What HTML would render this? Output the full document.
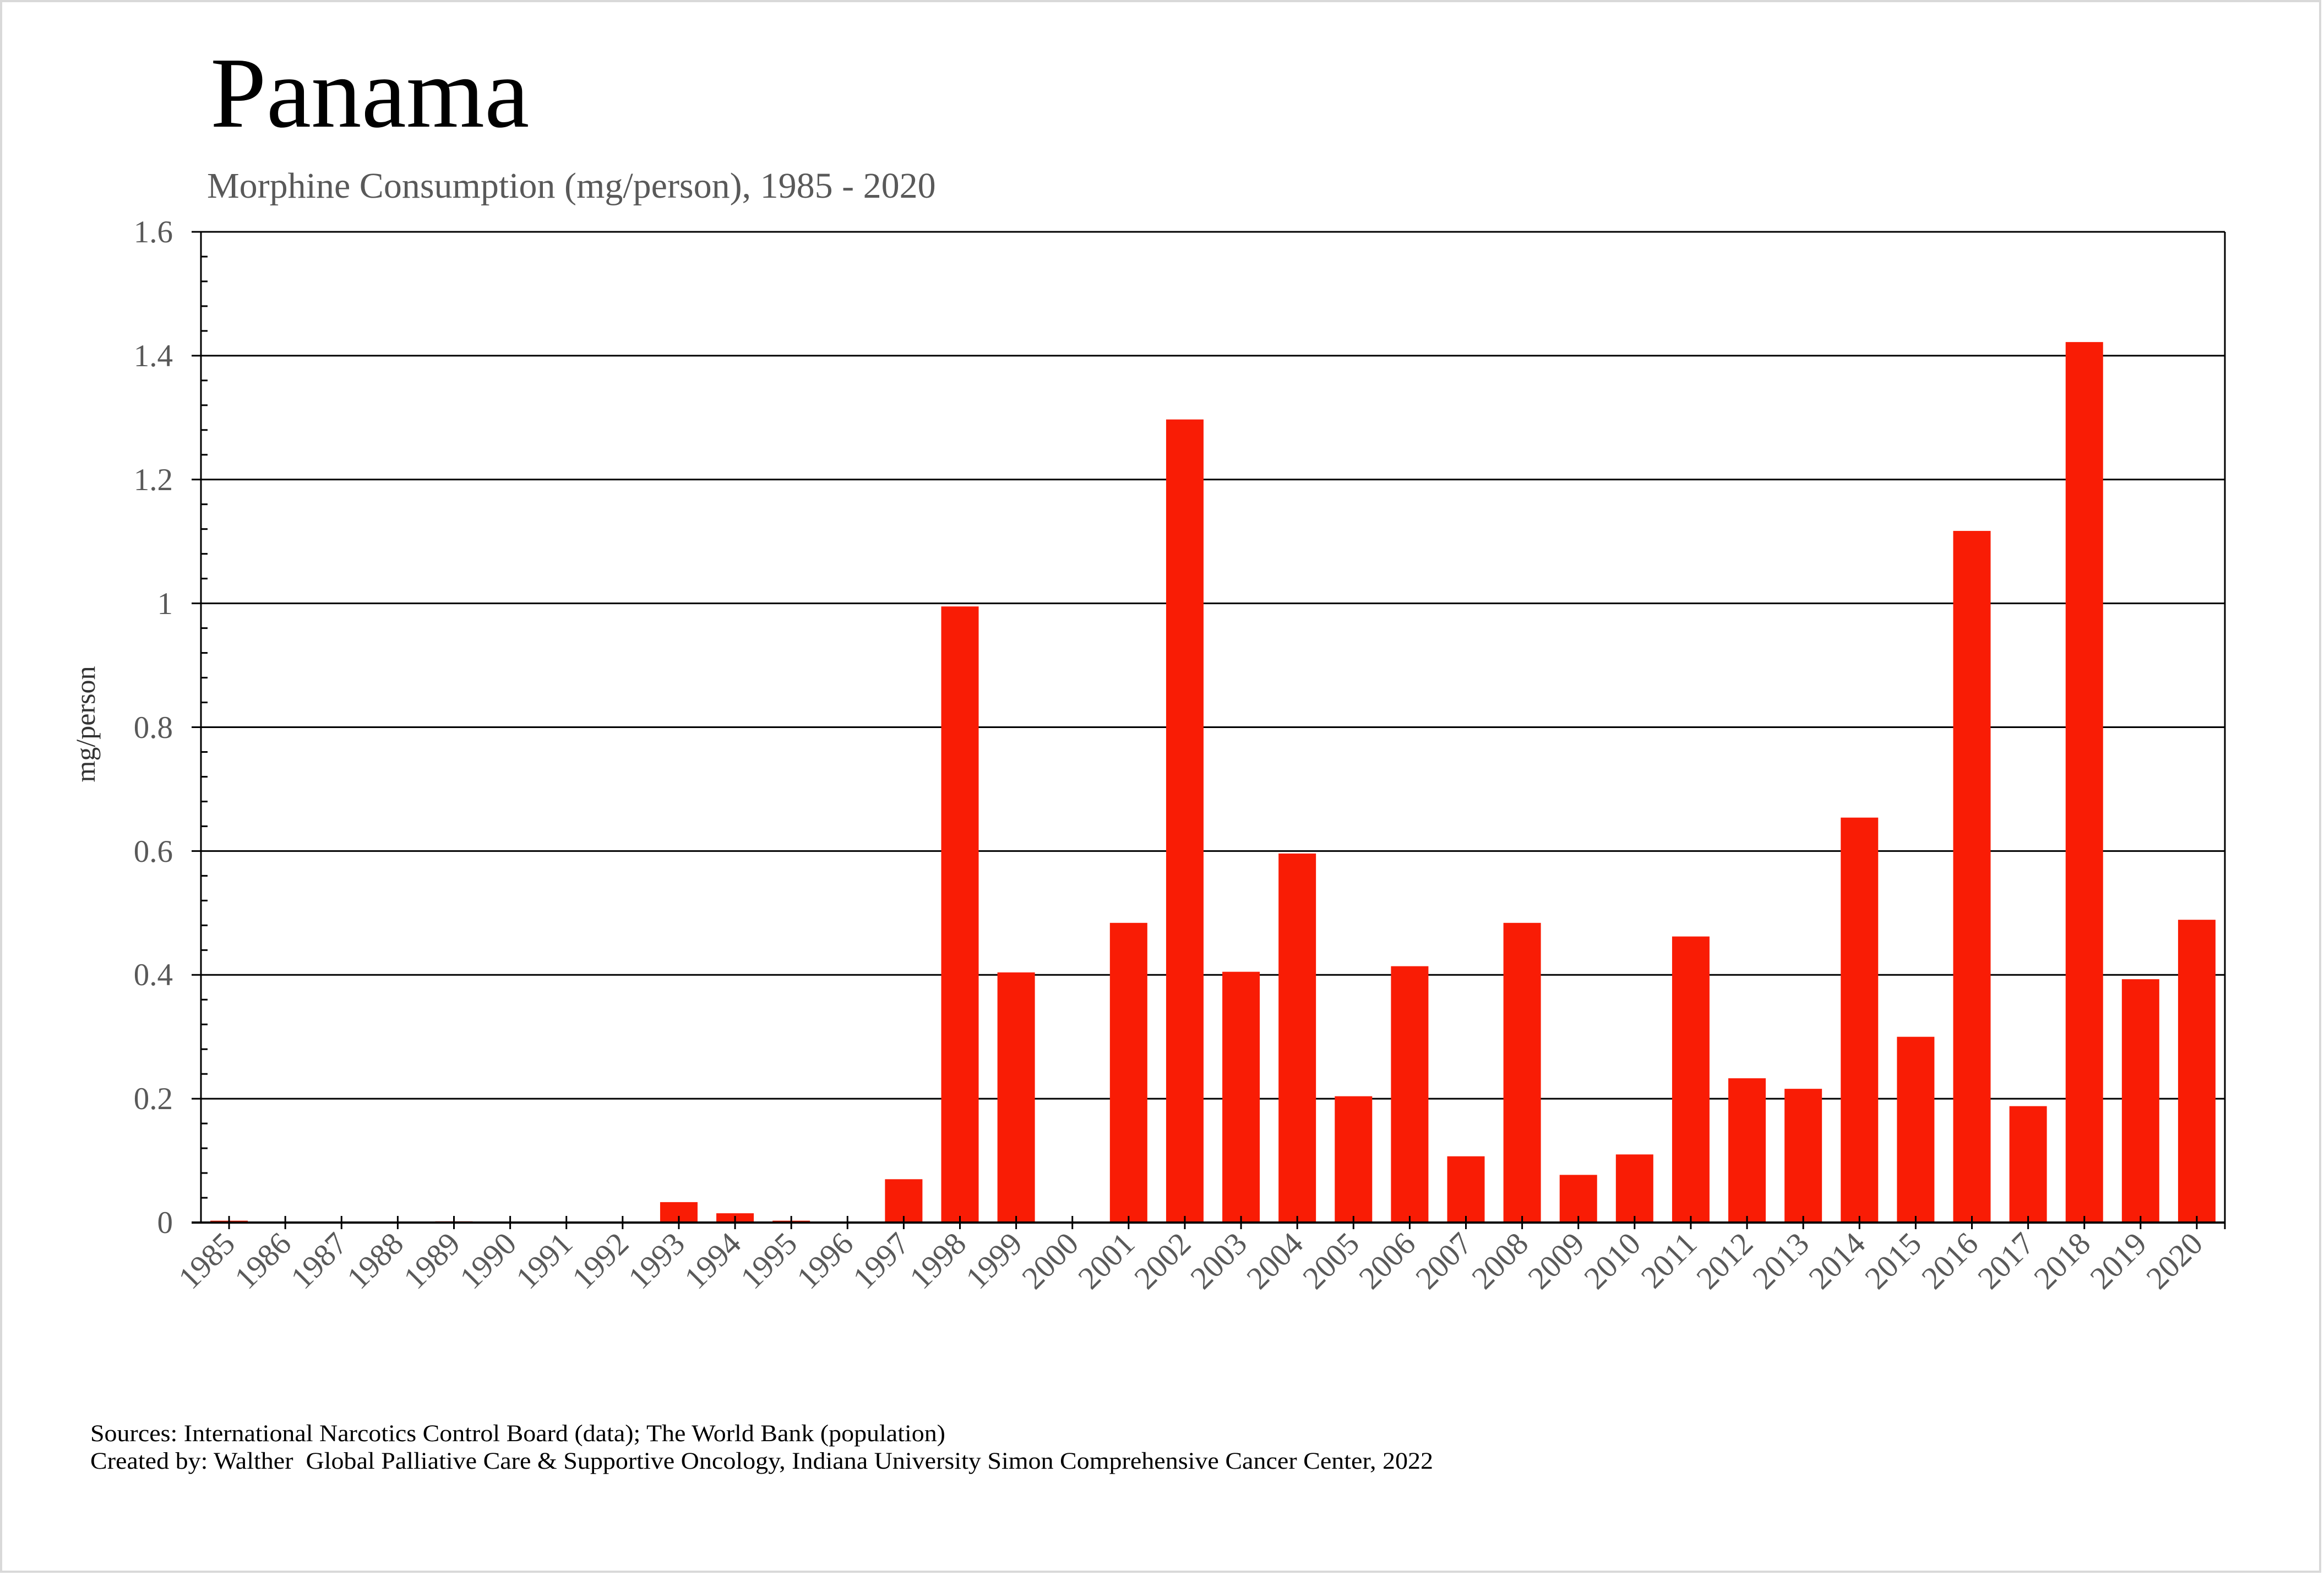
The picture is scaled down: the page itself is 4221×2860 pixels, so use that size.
<!DOCTYPE html>
<html><head><meta charset="utf-8"><style>
html,body{margin:0;padding:0;background:#fff;}
svg{display:block;}
text{font-family:"Liberation Serif",serif;}
</style></head><body>
<svg width="4221" height="2860" viewBox="0 0 4221 2860" xmlns="http://www.w3.org/2000/svg">
<rect x="2" y="2" width="4212" height="2852" fill="#fff" stroke="#d9d9d9" stroke-width="4"/>
<text x="382" y="230" font-size="183" fill="#000">Panama</text>
<text x="376" y="359" font-size="66" fill="#595959">Morphine Consumption (mg/person), 1985 - 2020</text>
<g id="plot"></g>
<g font-size="57" fill="#595959" text-anchor="end">
<text x="314" y="440">1.6</text>
<text x="314" y="665">1.4</text>
<text x="314" y="890">1.2</text>
<text x="314" y="1115">1</text>
<text x="314" y="1340">0.8</text>
<text x="314" y="1565">0.6</text>
<text x="314" y="1789">0.4</text>
<text x="314" y="2014">0.2</text>
<text x="314" y="2239">0</text>
</g>
<text transform="translate(172,1315) rotate(-90)" font-size="50" fill="#333" text-anchor="middle">mg/person</text>
<g font-size="58" fill="#595959" text-anchor="end">
<text transform="translate(430,2262) rotate(-45)">1985</text>
<text transform="translate(532,2262) rotate(-45)">1986</text>
<text transform="translate(634,2262) rotate(-45)">1987</text>
<text transform="translate(736,2262) rotate(-45)">1988</text>
<text transform="translate(839,2262) rotate(-45)">1989</text>
<text transform="translate(941,2262) rotate(-45)">1990</text>
<text transform="translate(1043,2262) rotate(-45)">1991</text>
<text transform="translate(1145,2262) rotate(-45)">1992</text>
<text transform="translate(1247,2262) rotate(-45)">1993</text>
<text transform="translate(1349,2262) rotate(-45)">1994</text>
<text transform="translate(1451,2262) rotate(-45)">1995</text>
<text transform="translate(1553,2262) rotate(-45)">1996</text>
<text transform="translate(1655,2262) rotate(-45)">1997</text>
<text transform="translate(1758,2262) rotate(-45)">1998</text>
<text transform="translate(1860,2262) rotate(-45)">1999</text>
<text transform="translate(1962,2262) rotate(-45)">2000</text>
<text transform="translate(2064,2262) rotate(-45)">2001</text>
<text transform="translate(2166,2262) rotate(-45)">2002</text>
<text transform="translate(2268,2262) rotate(-45)">2003</text>
<text transform="translate(2370,2262) rotate(-45)">2004</text>
<text transform="translate(2472,2262) rotate(-45)">2005</text>
<text transform="translate(2574,2262) rotate(-45)">2006</text>
<text transform="translate(2677,2262) rotate(-45)">2007</text>
<text transform="translate(2779,2262) rotate(-45)">2008</text>
<text transform="translate(2881,2262) rotate(-45)">2009</text>
<text transform="translate(2983,2262) rotate(-45)">2010</text>
<text transform="translate(3085,2262) rotate(-45)">2011</text>
<text transform="translate(3187,2262) rotate(-45)">2012</text>
<text transform="translate(3289,2262) rotate(-45)">2013</text>
<text transform="translate(3391,2262) rotate(-45)">2014</text>
<text transform="translate(3493,2262) rotate(-45)">2015</text>
<text transform="translate(3596,2262) rotate(-45)">2016</text>
<text transform="translate(3698,2262) rotate(-45)">2017</text>
<text transform="translate(3800,2262) rotate(-45)">2018</text>
<text transform="translate(3902,2262) rotate(-45)">2019</text>
<text transform="translate(4004,2262) rotate(-45)">2020</text>
</g>
<text x="164" y="2617" font-size="43" fill="#000" textLength="1553" lengthAdjust="spacingAndGlyphs">Sources: International Narcotics Control Board (data); The World Bank (population)</text>
<text x="164" y="2667" font-size="43" fill="#000" xml:space="preserve" textLength="2439" lengthAdjust="spacingAndGlyphs">Created by: Walther  Global Palliative Care &amp; Supportive Oncology, Indiana University Simon Comprehensive Cancer Center, 2022</text>
</svg>
<script>
(function(){
var L=365,R=4041,T=421,B=2220,n=36,w=(R-L)/n,s=(B-T)/1.6;
var v=[0.003,0,0,0,0.002,0,0,0,0.033,0.015,0.003,0,0.07,0.995,0.404,0,0.484,1.297,0.405,0.596,0.204,0.414,0.107,0.484,0.077,0.11,0.462,0.233,0.216,0.654,0.3,1.117,0.188,1.422,0.393,0.489];
var h='';
for(var k=1;k<=8;k++){var y=B-k*0.2*s;h+='<line x1="348" y1="'+y+'" x2="'+R+'" y2="'+y+'" stroke="#000" stroke-width="3"/>';}
for(var k=1;k<40;k++){if(k%5==0)continue;var y=B-k*0.04*s;h+='<line x1="'+L+'" y1="'+y+'" x2="'+(L+12)+'" y2="'+y+'" stroke="#000" stroke-width="3"/>';}
for(var i=0;i<n;i++){var c=L+(i+0.5)*w,bh=v[i]*s;if(bh>0)h+='<rect x="'+(c-34)+'" y="'+(B-bh)+'" width="68" height="'+bh+'" fill="#f91c05"/>';}
h+='<line x1="'+L+'" y1="'+T+'" x2="'+L+'" y2="'+B+'" stroke="#000" stroke-width="3"/>';
h+='<line x1="'+R+'" y1="'+T+'" x2="'+R+'" y2="'+(B+12)+'" stroke="#000" stroke-width="3"/>';
h+='<line x1="348" y1="'+B+'" x2="'+R+'" y2="'+B+'" stroke="#000" stroke-width="4"/>';
for(var i=0;i<n;i++){var c=L+(i+0.5)*w;h+='<line x1="'+c+'" y1="'+(B-12)+'" x2="'+c+'" y2="'+(B+12)+'" stroke="#000" stroke-width="3"/>';}
document.getElementById('plot').innerHTML=h;
})();
</script>
</body></html>
